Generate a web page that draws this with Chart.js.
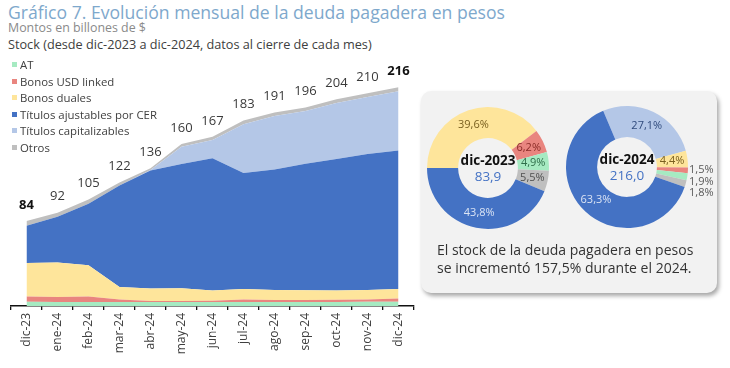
<!DOCTYPE html>
<html>
<head>
<meta charset="utf-8">
<script src="https://cdn.jsdelivr.net/npm/chart.js@4.4.0/dist/chart.umd.min.js"></script>
<style>
  body { margin: 0; width: 730px; height: 368px; background: #fff; position: relative; overflow: hidden; font-family: "Open Sans", sans-serif; }
  .abs { position: absolute; white-space: nowrap; }
  #title { left: 8px; top: -1px; font-size: 17.6px; line-height: 26px; color: #7ea8cc; }
  #sub { left: 8px; top: 20px; font-size: 12.4px; line-height: 16px; color: #8a8a8a; }
  #stock { left: 8px; top: 36px; font-size: 12.7px; line-height: 16px; color: #404040; }
  #legend { left: 12px; top: 57px; font-size: 11.4px; color: #404040; }
  #legend div { height: 16.5px; line-height: 16.5px; }
  #legend span { display: inline-block; width: 5px; height: 5px; margin-right: 3px; vertical-align: middle; position: relative; top: -1px; }
  #panel { left: 421px; top: 91px; width: 296px; height: 202px; background: #f2f2f2; border-radius: 10px; box-shadow: 2px 3px 4px rgba(0,0,0,0.35); }
  #note { left: 437px; top: 241px; font-size: 14px; line-height: 18px; color: #333; }
</style>
</head>
<body>
<div id="title" class="abs">Gráfico 7. Evolución mensual de la deuda pagadera en pesos</div>
<div id="sub" class="abs">Montos en billones de $</div>
<div id="stock" class="abs">Stock (desde dic-2023 a dic-2024, datos al cierre de cada mes)</div>
<div id="panel" class="abs"></div>
<div class="abs" style="left:0;top:55px;width:420px;height:313px"><canvas id="area"></canvas></div>
<div id="legend" class="abs"></div>
<div class="abs" style="left:413px;top:93px;width:150px;height:150px"><canvas id="pie23"></canvas></div>
<div class="abs" style="left:552px;top:92px;width:170px;height:150px"><canvas id="pie24"></canvas></div>
<div id="note" class="abs">El stock de la deuda pagadera en pesos<br>se incrementó 157,5% durante el 2024.</div>
<script>
// datos (billones de $)
const months = ['dic-23','ene-24','feb-24','mar-24','abr-24','may-24','jun-24','jul-24','ago-24','sep-24','oct-24','nov-24','dic-24'];
const totals = [84, 92, 105, 122, 136, 160, 167, 183, 191, 196, 204, 210, 216];
const at = [4.1, 4, 4, 4, 4, 4, 4, 4, 4, 4, 4, 4.1, 4.1];
const usdLinked = [5.2, 4.8, 5.5, 2.5, 1, 1, 1.2, 2.5, 2, 2, 2.2, 2.4, 3.2];
const duales = [33.2, 34.1, 30.7, 12.2, 12.2, 12.5, 10.2, 10.2, 9.8, 9.5, 9.2, 9.2, 9.5];
const cer = [36.7, 45.1, 60.8, 100.3, 116.5, 122.6, 130.4, 114.6, 118.9, 124.8, 129.7, 134.3, 136.7];
const capitalizables = [0, 0, 0, 0, 0.5, 17, 18, 48.2, 52.8, 52.2, 55.2, 56.2, 58.5];
const otros = [4.6, 4, 4, 3, 1.8, 2.9, 3.2, 3.5, 3.5, 3.5, 3.7, 3.8, 3.9];

// composicion (%) a dic-2023 y dic-2024
const pieSeries = ['Títulos capitalizables','Bonos duales','Bonos USD linked','AT','Otros','Títulos ajustables por CER'];
const share2023 = [0, 39.6, 6.2, 4.9, 5.5, 43.8];
const share2024 = [27.1, 4.4, 1.5, 1.9, 1.8, 63.3];
const stockDic23 = 83.9;
const stockDic24 = 216.0;

const FONT = '"Open Sans", sans-serif';
const colors = {
  'AT': '#a6eac2',
  'Bonos USD linked': '#e9857f',
  'Bonos duales': '#fee59b',
  'Títulos ajustables por CER': '#4472c4',
  'Títulos capitalizables': '#b4c7e7',
  'Otros': '#bfbfbf'
};
const labelColors = {
  'AT': '#2f6e4a',
  'Bonos USD linked': '#8a2b27',
  'Bonos duales': '#7a6020',
  'Títulos ajustables por CER': '#dbe4f4',
  'Títulos capitalizables': '#2f4a7c',
  'Otros': '#505050'
};

const series = [
  ['AT', at],
  ['Bonos USD linked', usdLinked],
  ['Bonos duales', duales],
  ['Títulos ajustables por CER', cer],
  ['Títulos capitalizables', capitalizables],
  ['Otros', otros]
];

// leyenda
document.getElementById('legend').innerHTML = series.map(s =>
  `<div><span style="background:${colors[s[0]]}"></span>${s[0]}</div>`).join('');

const fmt = v => v.toFixed(1).replace('.', ',');

// totales arriba del area
const totalLabels = {
  id: 'totalLabels',
  afterDatasetsDraw(chart) {
    const ctx = chart.ctx;
    const meta = chart.getDatasetMeta(chart.data.datasets.length - 1);
    ctx.save();
    ctx.textAlign = 'center';
    ctx.textBaseline = 'middle';
    meta.data.forEach((pt, i) => {
      const bold = i === 0 || i === totals.length - 1;
      ctx.font = (bold ? 'bold ' : '') + '13px ' + FONT;
      ctx.fillStyle = bold ? '#111' : '#3a3a3a';
      ctx.fillText(totals[i], pt.x, pt.y - 16);
    });
    ctx.restore();
  }
};

new Chart(document.getElementById('area'), {
  type: 'line',
  data: {
    labels: months,
    datasets: series.map((s, i) => ({
      label: s[0],
      data: s[1],
      backgroundColor: colors[s[0]],
      borderWidth: 0,
      pointRadius: 0,
      tension: 0,
      fill: i === 0 ? 'origin' : '-1'
    }))
  },
  options: {
    responsive: true,
    maintainAspectRatio: false,
    animation: false,
    layout: { padding: { left: 11, right: 6, top: 20, bottom: 0 } },
    plugins: { legend: { display: false }, tooltip: { enabled: false } },
    scales: {
      x: {
        offset: true,
        grid: { offset: true, drawOnChartArea: false, drawTicks: true, tickLength: 4, color: '#111', lineWidth: 1.3 },
        border: { color: '#111', width: 1.5 },
        ticks: { minRotation: 90, maxRotation: 90, color: '#404040', font: { size: 12, family: FONT }, padding: 3 },
        afterFit(s) { s.height = 62; }
      },
      y: { stacked: true, display: false, min: 0, max: 228 }
    }
  },
  plugins: [totalLabels]
});

// etiquetas de porcentaje y texto central de las tortas
const pieLabels = {
  id: 'pieLabels',
  afterDatasetsDraw(chart, args, opts) {
    const ctx = chart.ctx;
    const meta = chart.getDatasetMeta(0);
    const vals = chart.data.datasets[0].data;
    let lastY = -Infinity;
    ctx.save();
    ctx.textBaseline = 'middle';
    ctx.font = '11px ' + FONT;
    meta.data.forEach((arc, i) => {
      const v = vals[i];
      if (!v) return;
      const mid = (arc.startAngle + arc.endAngle) / 2;
      const txt = fmt(v) + '%';
      if (v < 3) {
        let y = arc.y + Math.sin(mid) * arc.outerRadius;
        y = Math.max(y, lastY + 11.5);
        lastY = y;
        ctx.textAlign = 'left';
        ctx.fillStyle = '#595959';
        ctx.fillText(txt, arc.x + arc.outerRadius + 1, y);
      } else {
        const r = (arc.innerRadius + arc.outerRadius) / 2;
        ctx.textAlign = 'center';
        ctx.fillStyle = labelColors[pieSeries[i]];
        ctx.fillText(txt, arc.x + Math.cos(mid) * r, arc.y + Math.sin(mid) * r);
      }
    });
    const c = meta.data[0];
    ctx.textAlign = 'center';
    ctx.font = 'bold 13.5px ' + FONT;
    ctx.fillStyle = '#111';
    ctx.fillText(opts.name, c.x, c.y - 7);
    ctx.font = '13.5px ' + FONT;
    ctx.fillStyle = '#4472c4';
    ctx.fillText(fmt(opts.total), c.x, c.y + 9);
    ctx.restore();
  }
};

function pie(id, data, rotation, name, total, pad) {
  new Chart(document.getElementById(id), {
    type: 'doughnut',
    data: {
      labels: pieSeries,
      datasets: [{ data: data, backgroundColor: pieSeries.map(s => colors[s]), borderWidth: 0 }]
    },
    options: {
      responsive: true,
      maintainAspectRatio: false,
      animation: false,
      cutout: '49%',
      rotation: rotation,
      layout: { padding: pad },
      plugins: { legend: { display: false }, tooltip: { enabled: false }, pieLabels: { name: name, total: total } }
    },
    plugins: [pieLabels]
  });
}

pie('pie23', share2023, -90, 'dic-2023', stockDic23, { left: 14, right: 14, top: 14, bottom: 14 });
pie('pie24', share2024, -23, 'dic-2024', stockDic24, { left: 14, right: 34, top: 14, bottom: 14 });
</script>
</body>
</html>
